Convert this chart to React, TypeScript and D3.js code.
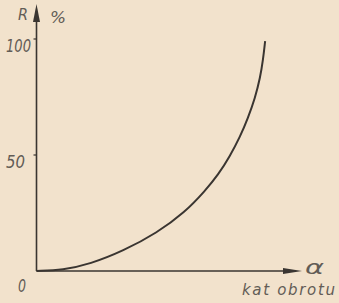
import React from "react";
import * as d3 from "d3";

const alpha: number[] = [0, 10.0, 20.3, 32.8, 45.6, 56.3, 63.8, 68.8, 73.3, 77.1, 80.1, 82.8, 84.7, 85.8, 86.6];
const rValues: number[] = [0, 0.4, 3.0, 8.6, 16.4, 25.4, 34.5, 41.4, 49.6, 57.8, 65.9, 74.6, 83.2, 90.9, 99.1];
const yTicks: number[] = [50, 100];
const yTickLabels: string[] = ["50", "100"];

const W = 339;
const H = 303;
const ink = "#3a3531";
const txt = "#625c56";
const bg = "#f2e2cc";

export default function App() {
  const x = d3.scaleLinear().domain([0, 100]).range([36.5, 300.5]);
  const y = d3.scaleLinear().domain([0, 100]).range([271, 39]);
  const pts: [number, number][] = alpha.map((a, i) => [a, rValues[i]]);
  const line = d3
    .line<[number, number]>()
    .x((d) => x(d[0]))
    .y((d) => y(d[1]))
    .curve(d3.curveBasis);
  const x0 = x(0);
  const y0 = y(0);
  const font = "'DejaVu Sans', sans-serif";
  const tickLen: Record<string, number> = { "50": 19, "100": 25 };
  return (
    <svg
      width={W}
      height={H}
      style={{ position: "absolute", left: 0, top: 0, background: bg }}
    >
      <rect width={W} height={H} fill={bg} />
      {/* y axis */}
      <line x1={x0} y1={y0} x2={x0} y2={14} stroke={ink} strokeWidth={1.6} />
      <path d={`M${x0},4 L${x0 - 3.5},22 L${x0 + 3.5},22 Z`} fill={ink} />
      {/* x axis */}
      <line x1={x0} y1={y0} x2={290} y2={y0} stroke={ink} strokeWidth={1.6} />
      <path d={`M302,${y0} L283,${y0 - 3} L283,${y0 + 3} Z`} fill={ink} />
      {/* ticks */}
      {yTicks.map((t) => (
        <line key={t} x1={x0 - 3} x2={x0} y1={y(t)} y2={y(t)} stroke={ink} strokeWidth={1.2} />
      ))}
      {yTicks.map((t, i) => (
        <text
          key={"l" + t}
          x={6}
          y={y(t) + 13}
          fontFamily={font}
          fontStyle="italic"
          fontSize={17}
          textLength={tickLen[yTickLabels[i]]}
          lengthAdjust="spacingAndGlyphs"
          fill={txt}
        >
          {yTickLabels[i]}
        </text>
      ))}
      <text
        x={18}
        y={292}
        fontFamily={font}
        fontStyle="italic"
        fontSize={17}
        textLength={8}
        lengthAdjust="spacingAndGlyphs"
        fill={txt}
      >
        0
      </text>
      {/* curve */}
      <path d={line(pts) || ""} fill="none" stroke={ink} strokeWidth={2} />
      {/* labels */}
      <text x={18} y={20} fontFamily={font} fontStyle="italic" fontSize={16} textLength={10} lengthAdjust="spacingAndGlyphs" fill={txt}>
        R
      </text>
      <text x={50} y={23} fontFamily={font} fontStyle="italic" fontSize={16} textLength={16} lengthAdjust="spacingAndGlyphs" fill={txt}>
        %
      </text>
      <text x={305} y={274} fontFamily={font} fontStyle="italic" fontSize={20} textLength={19} lengthAdjust="spacingAndGlyphs" fill={txt}>
        α
      </text>
      <text
        x={242}
        y={295}
        fontFamily={font}
        fontStyle="italic"
        fontSize={15}
        textLength={93}
        lengthAdjust="spacing"
        fill={txt}
      >
        kat obrotu
      </text>
    </svg>
  );
}
